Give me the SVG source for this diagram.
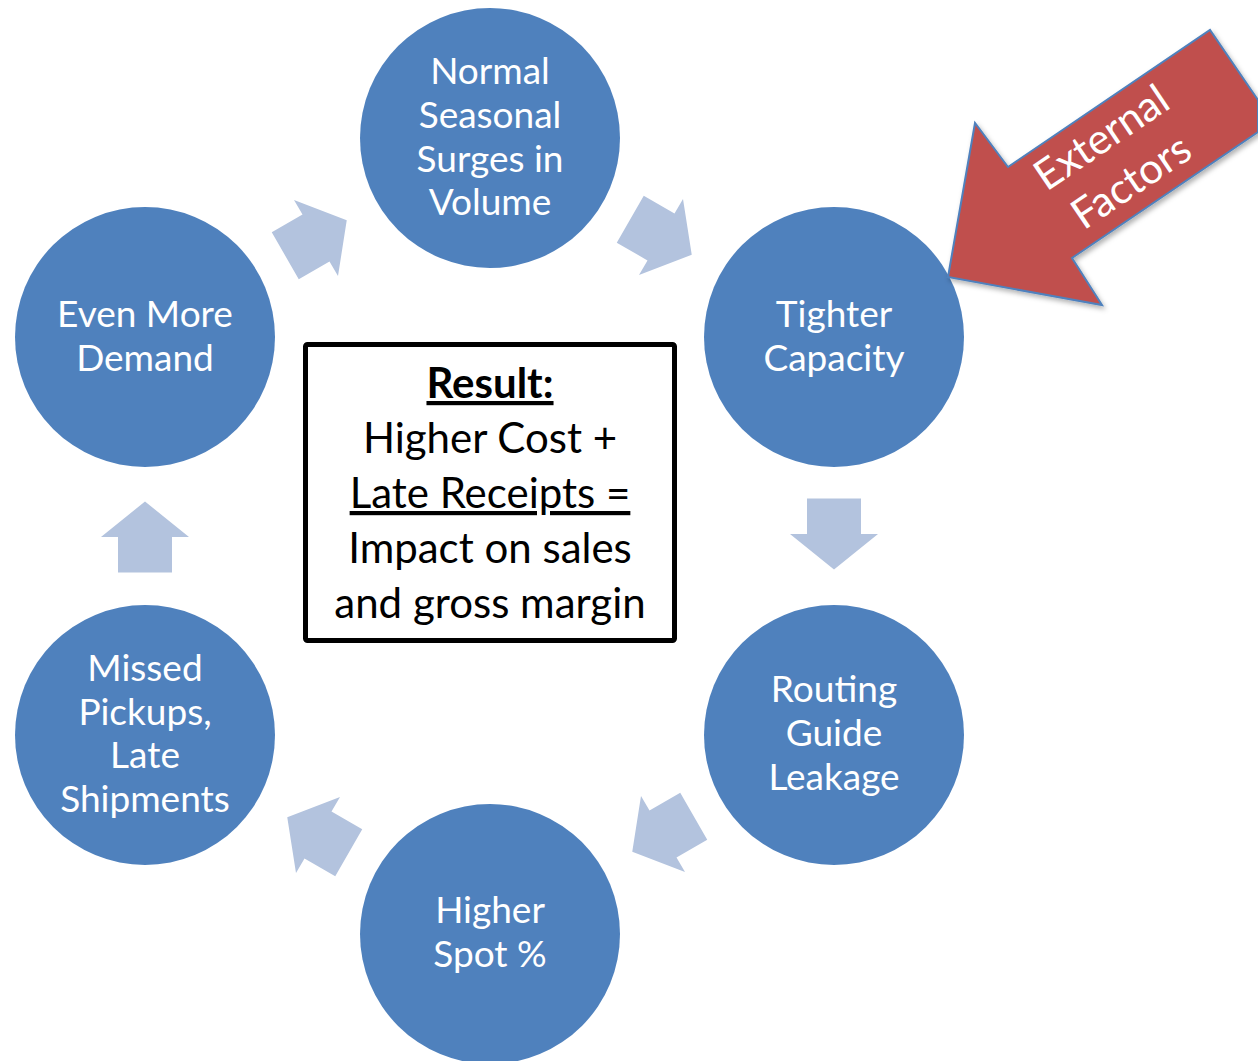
<svg xmlns="http://www.w3.org/2000/svg" width="1258" height="1061" viewBox="0 0 1258 1061">
<style>
.node circle{fill:#4F81BD;}
.node text{fill:#FFFFFF;font-family:Lato,"Liberation Sans",sans-serif;font-size:37px;text-anchor:middle;}
.arr{fill:#B3C3DE;}
.box text{fill:#000;font-family:Lato,"Liberation Sans",sans-serif;font-size:42px;text-anchor:middle;}
.ext text{fill:#FFFFFF;font-family:Lato,"Liberation Sans",sans-serif;font-size:42px;text-anchor:middle;}
</style>
<defs>
<path id="ar" d="M -35.5,-27 L 0,-27 L 0,-44 L 35.5,0 L 0,44 L 0,27 L -35.5,27 Z"/>
<filter id="sh" x="-10%" y="-10%" width="130%" height="130%">
<feDropShadow dx="2" dy="3" stdDeviation="2.5" flood-color="#000" flood-opacity="0.3"/>
</filter>
</defs>
<rect width="1258" height="1061" fill="#FFFFFF"/>
<g id="connectors">
<use href="#ar" class="arr" transform="translate(316,238) rotate(-30)"/>
<use href="#ar" class="arr" transform="translate(661,237) rotate(30)"/>
<use href="#ar" class="arr" transform="translate(834,534) rotate(90)"/>
<use href="#ar" class="arr" transform="translate(663,834) rotate(150)"/>
<use href="#ar" class="arr" transform="translate(318,835) rotate(210)"/>
<use href="#ar" class="arr" transform="translate(145,537) rotate(-90)"/>
</g>
<g id="n-normal" class="node">
<circle cx="490" cy="138" r="130"/>
<text x="490" y="84">Normal</text>
<text x="490" y="128">Seasonal</text>
<text x="490" y="172">Surges in</text>
<text x="490" y="215">Volume</text>
</g>
<g id="n-tighter" class="node">
<circle cx="834" cy="337" r="130"/>
<text x="834" y="327">Tighter</text>
<text x="834" y="371">Capacity</text>
</g>
<g id="n-routing" class="node">
<circle cx="834" cy="735" r="130"/>
<text x="834" y="702">Routing</text>
<text x="834" y="746">Guide</text>
<text x="834" y="790">Leakage</text>
</g>
<g id="n-spot" class="node">
<circle cx="490" cy="934" r="130"/>
<text x="490" y="923">Higher</text>
<text x="490" y="967">Spot %</text>
</g>
<g id="n-missed" class="node">
<circle cx="145" cy="735" r="130"/>
<text x="145" y="681">Missed</text>
<text x="145" y="725">Pickups,</text>
<text x="145" y="768">Late</text>
<text x="145" y="812">Shipments</text>
</g>
<g id="n-even" class="node">
<circle cx="145" cy="337" r="130"/>
<text x="145" y="327">Even More</text>
<text x="145" y="371">Demand</text>
</g>
<g id="n-result" class="box">
<rect x="305.5" y="344.5" width="369" height="296" rx="2" fill="#FFFFFF" stroke="#000000" stroke-width="5"/>
<text x="490" y="398" font-weight="bold" text-decoration="underline">Result:</text>
<text x="490" y="453">Higher Cost +</text>
<text x="490" y="508" text-decoration="underline">Late Receipts =</text>
<text x="490" y="563">Impact on sales</text>
<text x="490" y="618">and gross margin</text>
</g>
<g id="n-external" class="ext">
<path d="M 948,277 L 975,123 L 1008,167 L 1210,30 L 1258,100 L 1258,132 L 1072,258 L 1102,305 Z" fill="#C0504D" stroke="#4F81BD" stroke-width="2" stroke-linejoin="miter" filter="url(#sh)"/>
<g transform="translate(1124,171) rotate(-34)">
<text x="0" y="-26">External</text>
<text x="0" y="27">Factors</text>
</g>
</g>
</svg>
